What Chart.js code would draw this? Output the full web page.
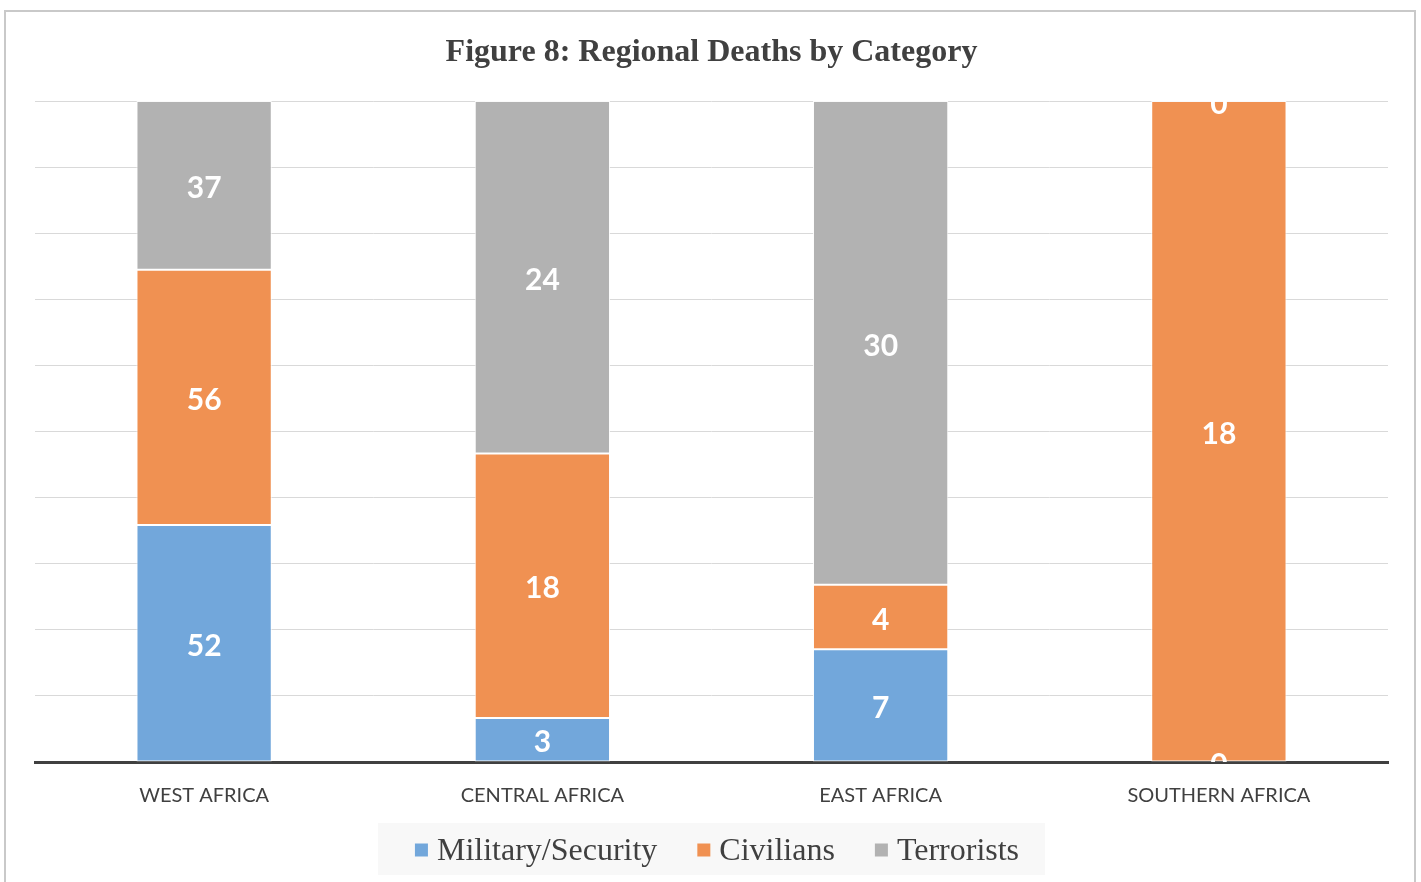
<!DOCTYPE html>
<html><head><meta charset="utf-8">
<script src="https://cdn.jsdelivr.net/npm/chart.js@4.4.1/dist/chart.umd.min.js"></script>
<style>
html,body{margin:0;padding:0;background:#fff;}
#wrap{position:absolute;left:0;top:0;width:1421px;height:882px;}
#frame{position:absolute;left:4px;top:10px;width:1412px;height:880px;border:2px solid #c9c9c9;box-sizing:border-box;pointer-events:none;}
</style></head>
<body>
<div id="wrap"><canvas id="c" width="1421" height="882"></canvas><div id="frame"></div></div>
<script>
const categories = ['WEST AFRICA', 'CENTRAL AFRICA', 'EAST AFRICA', 'SOUTHERN AFRICA'];
const military = [52, 3, 7, 0];
const civilians = [56, 18, 4, 18];
const terrorists = [37, 24, 30, 0];
const seriesNames = ['Military/Security', 'Civilians', 'Terrorists'];
const colors = ['#72a7db', '#f09152', '#b2b2b2'];

const raw = [military, civilians, terrorists];
const totals = categories.map((_, i) => raw.reduce((s, arr) => s + arr[i], 0));
const pct = raw.map(arr => arr.map((v, i) => totals[i] ? v / totals[i] * 100 : 0));

const labelPlugin = {
  id: 'valueLabels',
  afterDatasetsDraw(chart) {
    const ctx = chart.ctx, a = chart.chartArea;
    ctx.save();
    ctx.beginPath();
    ctx.rect(a.left, a.top, a.right - a.left, a.bottom - a.top);
    ctx.clip();
    ctx.fillStyle = '#ffffff';
    ctx.font = 'bold 30px Lato, "Open Sans", sans-serif';
    ctx.textAlign = 'center';
    ctx.textBaseline = 'middle';
    chart.data.datasets.forEach((ds, di) => {
      const meta = chart.getDatasetMeta(di);
      meta.data.forEach((el, i) => {
        const v = raw[di][i];
        const y = (el.y + el.base) / 2 + 3;
        ctx.fillText(String(v), el.x, y);
      });
    });
    ctx.restore();
  }
};

const customLegend = {
  id: 'customLegend',
  afterDraw(chart) {
    const ctx = chart.ctx;
    ctx.save();
    ctx.fillStyle = '#f8f8f8';
    ctx.fillRect(378, 823, 667, 52);
    ctx.font = '32px "Liberation Serif", "Times New Roman", serif';
    ctx.textBaseline = 'middle';
    ctx.textAlign = 'left';
    const box = 13, gapBox = 9, gapItem = 40, cy = 852;
    const items = chart.data.datasets.map(ds => ({ text: ds.label, color: ds.backgroundColor, w: ctx.measureText(ds.label).width }));
    const total = items.reduce((s, it) => s + box + gapBox + it.w, 0) + gapItem * (items.length - 1);
    let x = 717 - total / 2;
    items.forEach(it => {
      ctx.fillStyle = it.color;
      ctx.fillRect(x, cy - box / 2 - 2, box, box);
      x += box + gapBox;
      ctx.fillStyle = '#404040';
      ctx.fillText(it.text, x, cy);
      x += it.w + gapItem;
    });
    ctx.restore();
  }
};

new Chart(document.getElementById('c'), {
  type: 'bar',
  data: {
    labels: categories,
    datasets: seriesNames.map((n, k) => ({
      label: n,
      data: pct[k],
      backgroundColor: colors[k],
      borderColor: 'rgba(255,255,255,0.85)',
      borderWidth: 1,
      borderSkipped: false,
      barPercentage: 0.4,
      categoryPercentage: 1.0
    }))
  },
  options: {
    responsive: false,
    animation: false,
    layout: { padding: { left: 35, right: 33, top: 0, bottom: 60 } },
    plugins: {
      tooltip: { enabled: false },
      legend: { display: false },
      title: {
        display: true,
        text: 'Figure 8: Regional Deaths by Category',
        color: '#404040',
        font: { family: '"Liberation Serif", "Times New Roman", serif', size: 32, weight: 'bold' },
        padding: { top: 34, bottom: 28.6 }
      }
    },
    scales: {
      x: {
        stacked: true,
        grid: { display: false },
        border: { display: true, color: '#404040', width: 3 },
        ticks: { color: '#404040', font: { family: 'Lato, "Open Sans", sans-serif', size: 20 }, padding: 14 }
      },
      y: {
        stacked: true,
        min: 0, max: 100,
        grid: { color: '#d9d9d9', lineWidth: 1, drawTicks: false },
        border: { display: false },
        ticks: { display: false, stepSize: 10 }
      }
    }
  },
  plugins: [labelPlugin, customLegend]
});
</script>
</body></html>
